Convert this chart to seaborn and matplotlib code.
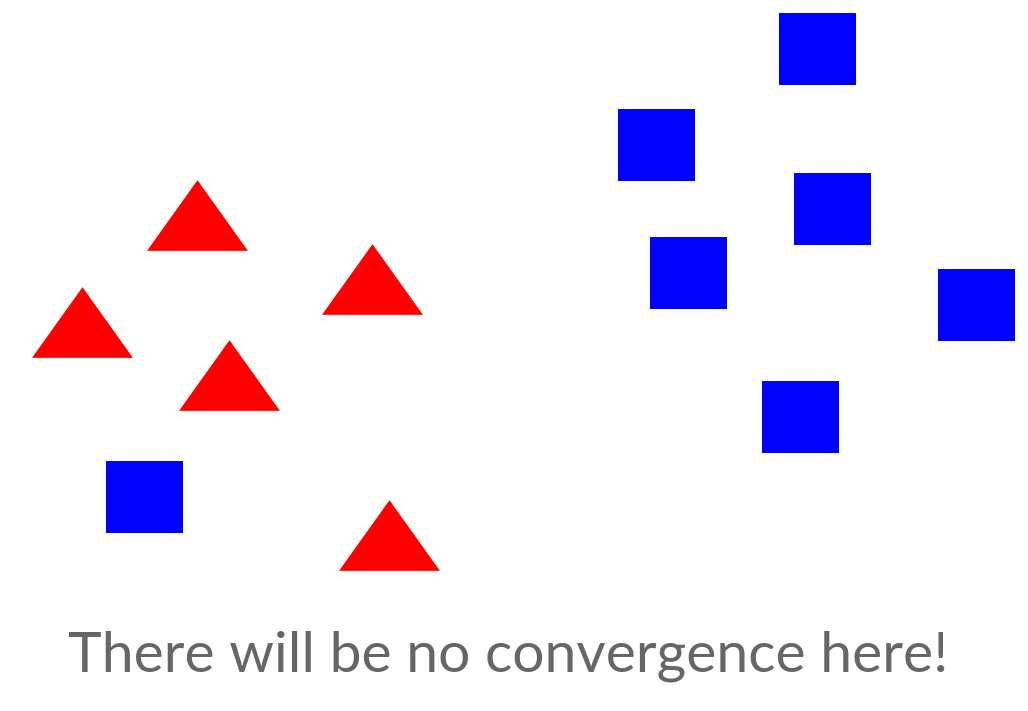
import matplotlib
matplotlib.use("Agg")
import matplotlib.pyplot as plt
import seaborn as sns
import pandas as pd

# data (pixel-space positions, y grows downward)
tri_x = [197, 372, 82, 229, 389]
tri_y = [215, 279, 322, 375, 535]
sq_x = [817, 656, 832, 688, 976, 800, 144]
sq_y = [48.5, 144.5, 208.5, 272.5, 304.5, 416.5, 496.5]
caption = "There will be no convergence here!"

W, H, DPI = 1028, 711, 100
sns.set_theme(style="white")
fig = plt.figure(figsize=(W / DPI, H / DPI), dpi=DPI)
ax = fig.add_axes([0, 0, 1, 1])

px = 72.0 / DPI  # points per pixel

tri_df = pd.DataFrame({"x": tri_x, "y": tri_y})
sq_df = pd.DataFrame({"x": sq_x, "y": sq_y})

tri_marker = [(0, 0.70), (-1, -0.70), (1, -0.70), (0, 0.70)]
sq_marker = [(-1, -0.935), (1, -0.935), (1, 0.935), (-1, 0.935), (-1, -0.935)]

sns.scatterplot(data=tri_df, x="x", y="y", ax=ax, marker=tri_marker,
                s=(101 * px) ** 2, color="#ff0000", linewidth=0, legend=False)
sns.scatterplot(data=sq_df, x="x", y="y", ax=ax, marker=sq_marker,
                s=(77 * px) ** 2, color="#0000ff", linewidth=0, legend=False)

ax.text(508, 672, caption, ha="center", va="baseline", color="#666666",
        fontsize=41, family=["Lato", "DejaVu Sans"])

ax.set_xlim(0, W)
ax.set_ylim(H, 0)
ax.set_axis_off()
fig.savefig("out.png", dpi=DPI, facecolor="white")
